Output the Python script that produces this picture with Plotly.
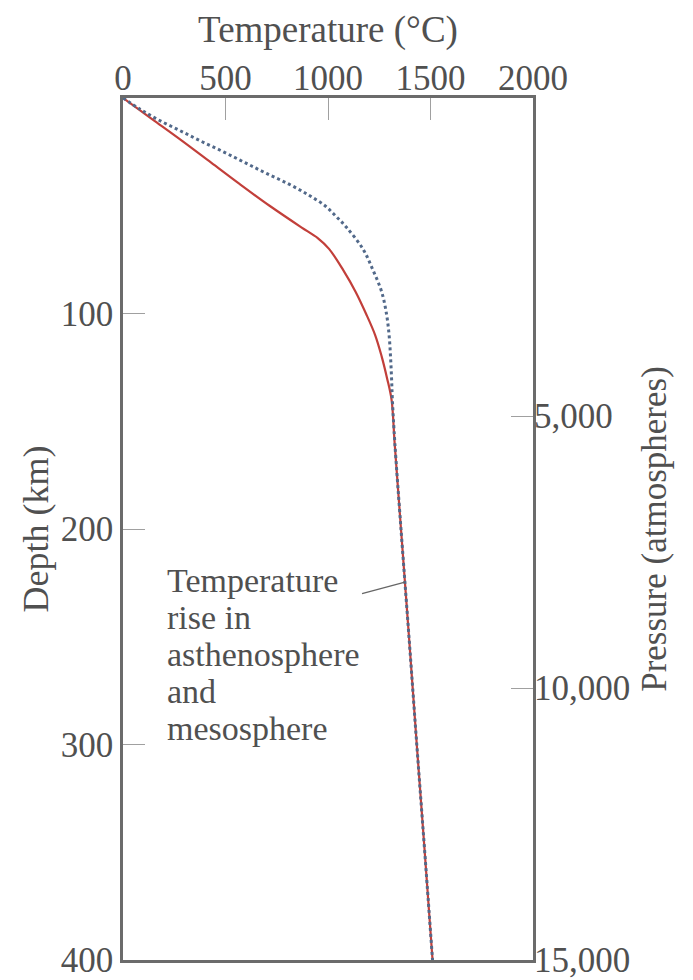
import numpy as np
import plotly.graph_objects as go

# Geotherm: depth (km) vs temperature (°C)
depth_km = [0, 10, 20, 30, 40, 50, 60, 65, 70, 80, 90, 100, 110, 120, 130, 140,
            160, 200, 250, 300, 350, 400]
temp_solid = [0, 145, 290, 430, 570, 715, 870, 950, 1005, 1075, 1135, 1185, 1230,
              1262, 1288, 1310, 1325, 1356, 1395, 1433, 1472, 1510]

depth_dotted = [0, 5, 10, 15, 20, 25, 30, 35, 40, 45, 50, 55, 60, 70, 80, 90, 100,
                110, 120, 130, 140, 160, 200, 250, 300, 350, 400]
temp_dotted = [0, 80, 170, 275, 380, 490, 595, 700, 810, 905, 985, 1040, 1090, 1170,
               1220, 1262, 1285, 1298, 1305, 1310, 1314, 1326, 1356, 1395, 1433, 1472,
               1510]

temp_ticks = [0, 500, 1000, 1500, 2000]
depth_ticks = [100, 200, 300, 400]
pressure_ticks = [5000, 10000, 15000]
pressure_labels = ["5,000", "10,000", "15,000"]

note_lines = ["Temperature", "rise in", "asthenosphere", "and", "mesosphere"]
note_temp = 205          # left edge of the note, °C
note_depth = 224         # depth of the first note line, km
leader_start = (1166, 230)
pointer_depth = 224.7

FONT = "Liberation Serif"
TXT = "#505050"
AXIS = "#6b6b6b"
SIZE = 35

fig = go.Figure()
fig.add_trace(go.Scatter(
    x=temp_solid, y=depth_km, mode="lines", line_shape="spline",
    line=dict(color="#c23f3a", width=2.2), hoverinfo="skip", showlegend=False))
fig.add_trace(go.Scatter(
    x=temp_dotted, y=depth_dotted, mode="lines", line_shape="spline",
    line=dict(color="#52698a", width=3, dash="dot"), hoverinfo="skip", showlegend=False))
# invisible carrier for the pressure axis
fig.add_trace(go.Scatter(
    x=[None], y=[None], yaxis="y2", mode="lines", hoverinfo="skip", showlegend=False))

# leader line from the note to the curve
pointer_temp = float(np.interp(pointer_depth, depth_km, temp_solid))
fig.add_shape(type="line", xref="x", yref="y",
              x0=leader_start[0], y0=leader_start[1], x1=pointer_temp, y1=pointer_depth,
              line=dict(color="#666666", width=1.3))

for i, line in enumerate(note_lines):
    fig.add_annotation(x=note_temp, y=note_depth, xref="x", yref="y", text=line,
                       showarrow=False, xanchor="left", yanchor="middle", align="left",
                       yshift=-37 * i, font=dict(family=FONT, size=34, color=TXT))

axis_common = dict(
    showline=True, linecolor=AXIS, linewidth=2.5, mirror=True,
    ticks="inside", ticklen=22, tickwidth=1, tickcolor="#a0a0a0",
    showgrid=False, zeroline=False,
    tickfont=dict(family=FONT, size=SIZE, color=TXT),
)

fig.update_layout(
    width=693, height=980,
    margin=dict(l=123, r=160, t=98, b=20),
    paper_bgcolor="white", plot_bgcolor="white",
    xaxis=dict(range=[0, 2000], side="top", tickvals=temp_ticks,
               automargin=True, ticklabelstandoff=-9,
               title=dict(text="Temperature (°C)", standoff=6,
                          font=dict(family=FONT, size=37, color=TXT)),
               **axis_common),
    yaxis=dict(range=[400, 0], tickvals=depth_ticks, ticklabeloverflow="allow",
               automargin=False,
               title=dict(text="Depth (km)", standoff=2,
                          font=dict(family=FONT, size=36, color=TXT)),
               **axis_common),
    yaxis2=dict(range=[15000, -846], overlaying="y", side="right",
                tickvals=pressure_ticks, ticktext=pressure_labels,
                ticklabeloverflow="allow", automargin=False,
                showline=False, ticks="inside", ticklen=22, tickwidth=1,
                tickcolor="#a0a0a0", showgrid=False, zeroline=False,
                tickfont=dict(family=FONT, size=SIZE, color=TXT),
                title=dict(text="Pressure (atmospheres)", standoff=12,
                           font=dict(family=FONT, size=35, color=TXT))),
)

fig.write_html("out.html")
